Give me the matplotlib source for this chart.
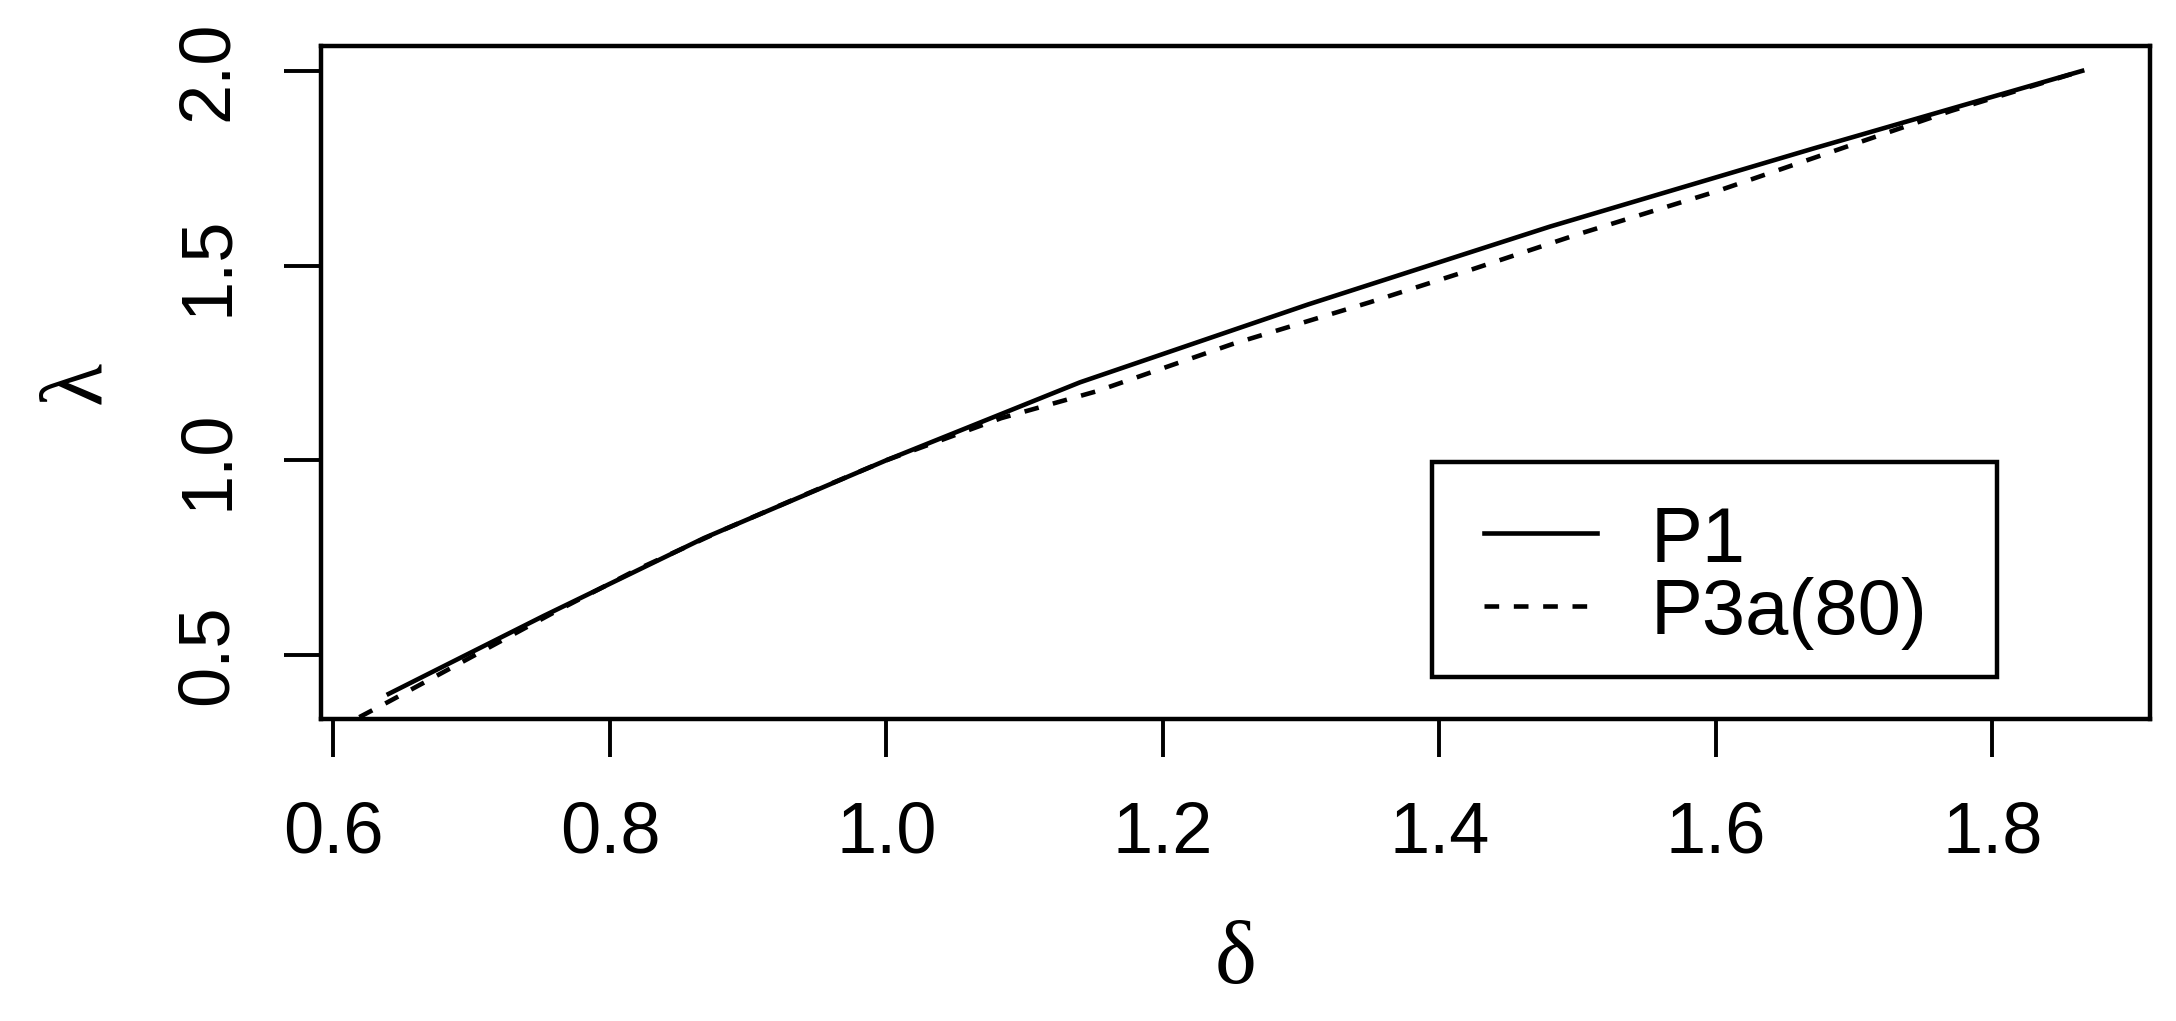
import matplotlib
matplotlib.use('Agg')
import matplotlib.pyplot as plt
from matplotlib.patches import Rectangle

# P1 curve (solid)
p1_delta = [0.640, 0.752, 0.868, 1.000, 1.140, 1.305, 1.480, 1.670, 1.865]
p1_lambda = [0.4, 0.6, 0.8, 1.0, 1.2, 1.4, 1.6, 1.8, 2.0]

# P3a(80) curve (dashed)
p3_delta = [0.600, 0.640, 0.700, 0.760, 0.820, 0.880, 0.940, 1.000, 1.083,
            1.152, 1.250, 1.350, 1.421, 1.500, 1.600, 1.705, 1.770, 1.865]
p3_lambda = [0.305, 0.380, 0.495, 0.610, 0.720, 0.818, 0.910, 1.000, 1.108,
             1.177, 1.298, 1.406, 1.487, 1.580, 1.690, 1.818, 1.897, 2.000]

labels = ['P1', 'P3a(80)']
xticks = [0.6, 0.8, 1.0, 1.2, 1.4, 1.6, 1.8]
yticks = [0.5, 1.0, 1.5, 2.0]

plt.rcParams['font.family'] = ['Liberation Sans', 'DejaVu Sans']

fig = plt.figure(figsize=(21.76, 10.21), dpi=100)
ax = fig.add_axes([0.1475, 0.296, 0.988 - 0.1475, 0.955 - 0.296])

dash = (3.2, 3.2)
ax.plot(p1_delta, p1_lambda, color='black', lw=3.3)
ax.plot(p3_delta, p3_lambda, color='black', lw=3.3, dashes=dash)

# R style 4% expansion from P1 range
xr = max(p1_delta) - min(p1_delta)
yr = max(p1_lambda) - min(p1_lambda)
ax.set_xlim(min(p1_delta) - 0.04 * xr, max(p1_delta) + 0.04 * xr)
ax.set_ylim(min(p1_lambda) - 0.04 * yr, max(p1_lambda) + 0.04 * yr)

ax.set_xticks(xticks)
ax.set_xticklabels(['%.1f' % v for v in xticks])
ax.set_yticks(yticks)
ax.set_yticklabels(['%.1f' % v for v in yticks], rotation=90, va='center')

ax.tick_params(axis='both', direction='out', length=27, width=2.8,
               labelsize=52, colors='black')
ax.tick_params(axis='x', pad=32)
ax.tick_params(axis='y', pad=30)

for s in ax.spines.values():
    s.set_linewidth(3.2)

ax.set_xlabel('δ', fontsize=64, family='Liberation Serif', labelpad=38)
ax.set_ylabel('λ', fontsize=64, family='Liberation Serif', labelpad=40, rotation=90)

# legend box drawn R-style (in axes fractions)
box = Rectangle((0.6074, 0.0624), 0.9163 - 0.6074, 0.3819 - 0.0624,
                transform=ax.transAxes, fill=False, edgecolor='black', lw=3.2,
                clip_on=False, zorder=5)
ax.add_patch(box)
ax.plot([0.6361, 0.6977], [0.2764, 0.2764], transform=ax.transAxes,
        color='black', lw=3.3, zorder=5)
ax.plot([0.6361, 0.6977], [0.1679, 0.1679], transform=ax.transAxes,
        color='black', lw=3.3, dashes=dash, zorder=5)
ax.text(0.7272, 0.2333, labels[0], transform=ax.transAxes, fontsize=56,
        va='baseline', ha='left')
ax.text(0.7272, 0.1263, labels[1], transform=ax.transAxes, fontsize=56,
        va='baseline', ha='left')

fig.savefig('out.png', dpi=100)
